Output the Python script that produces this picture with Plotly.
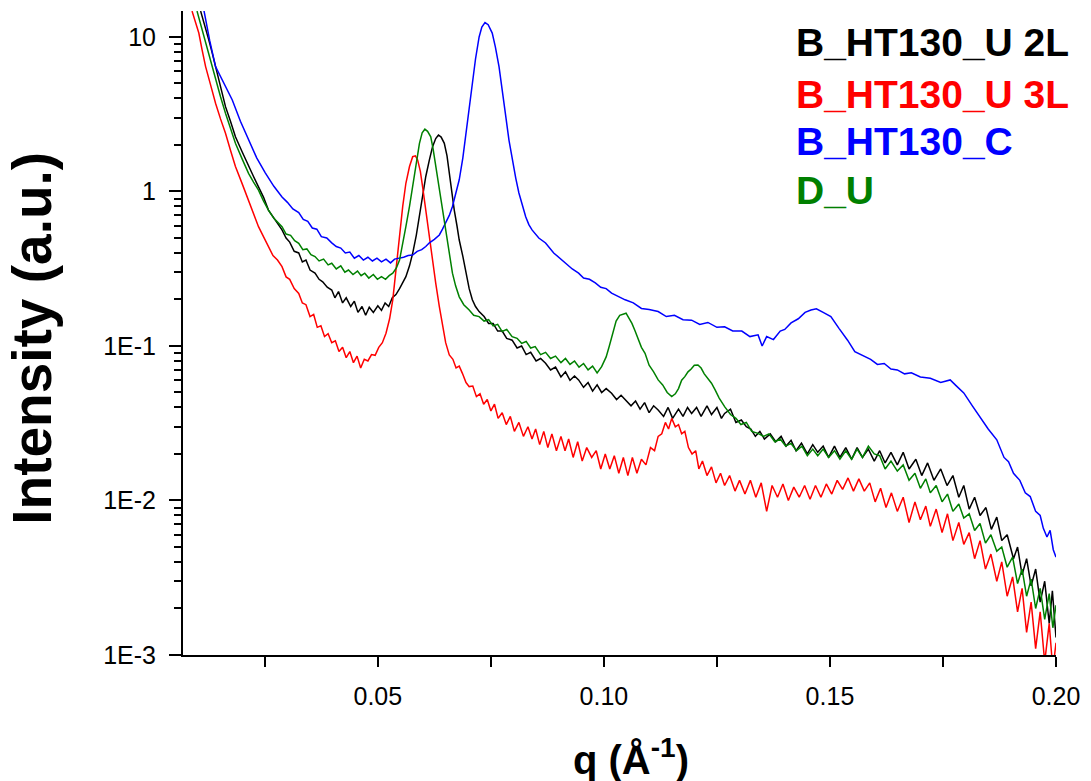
import plotly.graph_objects as go

# ---------------- data ----------------
series_names = ["B_HT130_U 2L", "B_HT130_U 3L", "B_HT130_C", "D_U"]
series_colors = ["#000000", "#FF0000", "#0000FF", "#008000"]

# B_HT130_U 2L (black)
q_black = [0.0108, 0.0117, 0.0126, 0.0133, 0.0141, 0.0152, 0.0163, 0.0174, 0.0185, 0.0200,
           0.0214, 0.0225, 0.0236, 0.0247, 0.0258, 0.0270, 0.0280, 0.0288, 0.0297, 0.0305,
           0.0315, 0.0325, 0.0333, 0.0341, 0.0350, 0.0361, 0.0370, 0.0378, 0.0388, 0.0398,
           0.0405, 0.0413, 0.0422, 0.0430, 0.0440, 0.0448, 0.0456, 0.0465, 0.0473, 0.0481,
           0.0490, 0.0500, 0.0508, 0.0516, 0.0524, 0.0532, 0.0540, 0.0548, 0.0555, 0.0562,
           0.0570, 0.0577, 0.0585, 0.0592, 0.0599, 0.0606, 0.0614, 0.0621, 0.0628, 0.0634,
           0.0640, 0.0647, 0.0653, 0.0658, 0.0664, 0.0669, 0.0675, 0.0680, 0.0688, 0.0695,
           0.0702, 0.0709, 0.0716, 0.0724, 0.0735, 0.0745, 0.0755, 0.0765, 0.0775, 0.0785,
           0.0797, 0.0808, 0.0818, 0.0828, 0.0838, 0.0850, 0.0860, 0.0871, 0.0882, 0.0893,
           0.0905, 0.0915, 0.0925, 0.0935, 0.0944, 0.0955, 0.0965, 0.0975, 0.0985, 0.0995,
           0.1005, 0.1017, 0.1028, 0.1038, 0.1047, 0.1060, 0.1070, 0.1080, 0.1090, 0.1100,
           0.1110, 0.1120, 0.1132, 0.1142, 0.1152, 0.1165, 0.1175, 0.1185, 0.1194, 0.1205,
           0.1215, 0.1228, 0.1238, 0.1250, 0.1260, 0.1267, 0.1280, 0.1292, 0.1304, 0.1315,
           0.1325, 0.1335, 0.1345, 0.1355, 0.1368, 0.1380, 0.1392, 0.1403, 0.1414, 0.1425,
           0.1437, 0.1450, 0.1462, 0.1473, 0.1485, 0.1497, 0.1510, 0.1522, 0.1535, 0.1548,
           0.1560, 0.1572, 0.1585, 0.1598, 0.1610, 0.1622, 0.1635, 0.1649, 0.1662, 0.1675,
           0.1690, 0.1703, 0.1716, 0.1730, 0.1745, 0.1759, 0.1772, 0.1785, 0.1796, 0.1808,
           0.1820, 0.1832, 0.1845, 0.1857, 0.1869, 0.1880, 0.1892, 0.1906, 0.1915, 0.1925,
           0.1935, 0.1945, 0.1955, 0.1965, 0.1975, 0.1985, 0.1992, 0.2000]
i_black = [14.7, 12.0, 9.57, 8.0, 6.43, 4.8, 3.54, 2.85, 2.26, 1.80,
           1.45, 1.25, 1.07, 0.92, 0.758, 0.68, 0.61, 0.564, 0.50, 0.47,
           0.41, 0.40, 0.35, 0.36, 0.31, 0.296, 0.27, 0.26, 0.24, 0.23,
           0.205, 0.225, 0.19, 0.205, 0.18, 0.195, 0.165, 0.18, 0.158, 0.178,
           0.165, 0.182, 0.17, 0.19, 0.18, 0.205, 0.215, 0.235, 0.26, 0.281,
           0.33, 0.398, 0.52, 0.687, 0.93, 1.25, 1.60, 1.95, 2.20, 2.32,
           2.25, 2.05, 1.70, 1.31, 0.98, 0.758, 0.60, 0.485, 0.38, 0.296,
           0.235, 0.199, 0.18, 0.167, 0.155, 0.140, 0.140, 0.125, 0.125, 0.112,
           0.109, 0.097, 0.100, 0.088, 0.091, 0.080, 0.083, 0.0773, 0.070, 0.073,
           0.063, 0.068, 0.060, 0.064, 0.0603, 0.054, 0.058, 0.051, 0.056, 0.050,
           0.053, 0.0494, 0.045, 0.048, 0.0447, 0.041, 0.044, 0.039, 0.043, 0.037,
           0.041, 0.0385, 0.035, 0.040, 0.034, 0.039, 0.035, 0.040, 0.0366, 0.040,
           0.035, 0.041, 0.036, 0.040, 0.034, 0.0366, 0.039, 0.032, 0.0332, 0.030,
           0.029, 0.026, 0.028, 0.025, 0.027, 0.024, 0.026, 0.0225, 0.0245, 0.021,
           0.0235, 0.020, 0.023, 0.0205, 0.0225, 0.019, 0.0225, 0.019, 0.022, 0.0185,
           0.022, 0.019, 0.0215, 0.018, 0.021, 0.0175, 0.0205, 0.017, 0.0205, 0.016,
           0.0185, 0.0145, 0.0175, 0.0135, 0.016, 0.0125, 0.0145, 0.0105, 0.0125, 0.0088,
           0.0105, 0.0080, 0.0090, 0.0065, 0.0078, 0.0055, 0.0060, 0.0042, 0.0050, 0.0033,
           0.0042, 0.0028, 0.0036, 0.0022, 0.0030, 0.0016, 0.0026, 0.0013]

# B_HT130_U 3L (red)
q_red = [0.0089, 0.0096, 0.0104, 0.0111, 0.0119, 0.0130, 0.0141, 0.0152, 0.0163, 0.0174,
         0.0185, 0.0200, 0.0214, 0.0225, 0.0236, 0.0247, 0.0258, 0.0268, 0.0278, 0.0288,
         0.0297, 0.0305, 0.0315, 0.0325, 0.0333, 0.0341, 0.0350, 0.0358, 0.0366, 0.0374,
         0.0382, 0.0390, 0.0398, 0.0406, 0.0414, 0.0422, 0.0430, 0.0438, 0.0446, 0.0454,
         0.0462, 0.0470, 0.0478, 0.0486, 0.0494, 0.0502, 0.0510, 0.0518, 0.0526, 0.0533,
         0.0540, 0.0548, 0.0555, 0.0562, 0.0570, 0.0577, 0.0583, 0.0588, 0.0594, 0.0599,
         0.0606, 0.0614, 0.0621, 0.0628, 0.0636, 0.0643, 0.0650, 0.0658, 0.0666, 0.0673,
         0.0680, 0.0687, 0.0695, 0.0702, 0.0710, 0.0718, 0.0726, 0.0734, 0.0742, 0.0750,
         0.0758, 0.0766, 0.0775, 0.0784, 0.0793, 0.0802, 0.0812, 0.0822, 0.0832, 0.0841,
         0.0849, 0.0858, 0.0867, 0.0876, 0.0885, 0.0895, 0.0905, 0.0914, 0.0922, 0.0932,
         0.0942, 0.0952, 0.0962, 0.0973, 0.0983, 0.0993, 0.1003, 0.1013, 0.1023, 0.1033,
         0.1043, 0.1053, 0.1063, 0.1073, 0.1083, 0.1093, 0.1103, 0.1112, 0.1120, 0.1128,
         0.1136, 0.1143, 0.1150, 0.1158, 0.1165, 0.1172, 0.1179, 0.1187, 0.1195, 0.1203,
         0.1210, 0.1218, 0.1228, 0.1238, 0.1248, 0.1258, 0.1267, 0.1278, 0.1290, 0.1300,
         0.1312, 0.1324, 0.1336, 0.1348, 0.1360, 0.1372, 0.1384, 0.1396, 0.1408, 0.1420,
         0.1432, 0.1444, 0.1456, 0.1468, 0.1480, 0.1492, 0.1504, 0.1516, 0.1528, 0.1540,
         0.1552, 0.1564, 0.1576, 0.1588, 0.1600, 0.1612, 0.1624, 0.1636, 0.1649, 0.1662,
         0.1675, 0.1688, 0.1700, 0.1712, 0.1722, 0.1735, 0.1748, 0.1760, 0.1772, 0.1785,
         0.1796, 0.1808, 0.1820, 0.1832, 0.1844, 0.1856, 0.1869, 0.1880, 0.1892, 0.1904,
         0.1915, 0.1925, 0.1935, 0.1945, 0.1955, 0.1965, 0.1975, 0.1985, 0.1993, 0.2000]
i_red = [14.7, 12.5, 10.6, 8.3, 6.43, 4.9, 3.72, 2.95, 2.38, 1.85,
         1.45, 1.12, 0.881, 0.72, 0.592, 0.51, 0.44, 0.385, 0.36, 0.326,
         0.28, 0.27, 0.235, 0.219, 0.19, 0.185, 0.155, 0.16, 0.132, 0.135,
         0.115, 0.12, 0.105, 0.108, 0.092, 0.098, 0.084, 0.092, 0.078, 0.086,
         0.072, 0.082, 0.080, 0.088, 0.087, 0.098, 0.105, 0.121, 0.150, 0.199,
         0.31, 0.536, 0.80, 1.13, 1.45, 1.68, 1.70, 1.60, 1.35, 1.07,
         0.75, 0.536, 0.36, 0.255, 0.18, 0.133, 0.105, 0.0875, 0.082, 0.072,
         0.074, 0.0665, 0.058, 0.0546, 0.055, 0.047, 0.049, 0.042, 0.045, 0.038,
         0.042, 0.034, 0.037, 0.031, 0.035, 0.028, 0.032, 0.026, 0.030, 0.025,
         0.029, 0.023, 0.028, 0.022, 0.027, 0.021, 0.026, 0.021, 0.025, 0.019,
         0.024, 0.018, 0.022, 0.019, 0.021, 0.016, 0.020, 0.016, 0.0195, 0.015,
         0.019, 0.0145, 0.019, 0.015, 0.0185, 0.017, 0.022, 0.021, 0.026, 0.027,
         0.032, 0.029, 0.034, 0.030, 0.031, 0.027, 0.028, 0.022, 0.020, 0.021,
         0.016, 0.018, 0.0145, 0.0165, 0.013, 0.015, 0.0125, 0.0145, 0.0115, 0.0135,
         0.0110, 0.0135, 0.0105, 0.0130, 0.0085, 0.0125, 0.0105, 0.0128, 0.0100, 0.0122,
         0.0105, 0.0125, 0.0102, 0.0125, 0.0105, 0.0128, 0.0110, 0.0135, 0.0118, 0.0140,
         0.0115, 0.0138, 0.0115, 0.0130, 0.0098, 0.0120, 0.0090, 0.0112, 0.0085, 0.0105,
         0.0072, 0.0098, 0.0075, 0.0092, 0.0068, 0.0088, 0.0062, 0.0082, 0.0055, 0.0072,
         0.0052, 0.0062, 0.0042, 0.0055, 0.0036, 0.0045, 0.0030, 0.0040, 0.0024, 0.0032,
         0.0019, 0.0027, 0.0014, 0.0022, 0.0011, 0.0019, 0.0009, 0.0016, 0.0008, 0.0012]

# B_HT130_C (blue)
q_blue = [0.0115, 0.0128, 0.0141, 0.0160, 0.0178, 0.0196, 0.0214, 0.0232, 0.0251, 0.0270,
          0.0288, 0.0300, 0.0312, 0.0325, 0.0335, 0.0345, 0.0355, 0.0365, 0.0375, 0.0387,
          0.0398, 0.0408, 0.0418, 0.0428, 0.0438, 0.0448, 0.0458, 0.0468, 0.0478, 0.0488,
          0.0498, 0.0508, 0.0518, 0.0528, 0.0537, 0.0547, 0.0557, 0.0567, 0.0577, 0.0587,
          0.0597, 0.0606, 0.0614, 0.0625, 0.0636, 0.0643, 0.0650, 0.0658, 0.0665, 0.0672,
          0.0680, 0.0688, 0.0695, 0.0702, 0.0709, 0.0716, 0.0724, 0.0730, 0.0737, 0.0744,
          0.0753, 0.0760, 0.0768, 0.0775, 0.0783, 0.0790, 0.0797, 0.0805, 0.0812, 0.0820,
          0.0827, 0.0834, 0.0841, 0.0856, 0.0871, 0.0889, 0.0907, 0.0920, 0.0930, 0.0944,
          0.0955, 0.0968, 0.0981, 0.0993, 0.1005, 0.1017, 0.1030, 0.1047, 0.1065, 0.1083,
          0.1100, 0.1120, 0.1138, 0.1156, 0.1175, 0.1194, 0.1212, 0.1230, 0.1250, 0.1267,
          0.1285, 0.1305, 0.1323, 0.1341, 0.1350, 0.1360, 0.1375, 0.1390, 0.1400, 0.1414,
          0.1430, 0.1445, 0.1458, 0.1470, 0.1485, 0.1502, 0.1520, 0.1539, 0.1555, 0.1576,
          0.1590, 0.1605, 0.1620, 0.1635, 0.1649, 0.1665, 0.1680, 0.1700, 0.1722, 0.1745,
          0.1766, 0.1780, 0.1796, 0.1815, 0.1832, 0.1850, 0.1869, 0.1885, 0.1895, 0.1906,
          0.1920, 0.1932, 0.1943, 0.1955, 0.1965, 0.1972, 0.1980, 0.1987, 0.1994, 0.2000]
i_blue = [15.0, 9.5, 6.43, 5.0, 3.91, 2.85, 2.15, 1.65, 1.32, 1.08,
          0.92, 0.85, 0.77, 0.73, 0.66, 0.64, 0.58, 0.57, 0.51, 0.50,
          0.465, 0.44, 0.43, 0.40, 0.405, 0.37, 0.385, 0.36, 0.375, 0.355,
          0.37, 0.35, 0.365, 0.345, 0.365, 0.37, 0.375, 0.385, 0.388, 0.41,
          0.42, 0.44, 0.465, 0.49, 0.523, 0.57, 0.625, 0.70, 0.80, 0.97,
          1.19, 1.65, 2.39, 3.5, 5.04, 7.2, 10.0, 11.6, 12.4, 12.0,
          10.6, 8.6, 6.43, 4.4, 3.05, 2.15, 1.60, 1.22, 0.977, 0.80,
          0.687, 0.61, 0.564, 0.50, 0.464, 0.40, 0.36, 0.33, 0.315, 0.296,
          0.275, 0.27, 0.256, 0.24, 0.235, 0.22, 0.21, 0.199, 0.19, 0.175,
          0.172, 0.167, 0.155, 0.158, 0.148, 0.147, 0.138, 0.142, 0.132, 0.133,
          0.125, 0.125, 0.115, 0.118, 0.100, 0.115, 0.110, 0.125, 0.128, 0.141,
          0.150, 0.165, 0.171, 0.174, 0.165, 0.155, 0.130, 0.109, 0.092, 0.0853,
          0.082, 0.076, 0.077, 0.071, 0.070, 0.066, 0.067, 0.063, 0.0618, 0.058,
          0.0603, 0.055, 0.0497, 0.041, 0.0348, 0.029, 0.0247, 0.0190, 0.0178, 0.0150,
          0.0135, 0.0112, 0.0106, 0.0085, 0.0080, 0.0066, 0.0058, 0.0064, 0.0048, 0.0043]

# D_U (green)
q_green = [0.0100, 0.0110, 0.0119, 0.0130, 0.0141, 0.0152, 0.0163, 0.0174, 0.0185, 0.0200,
           0.0214, 0.0225, 0.0236, 0.0247, 0.0258, 0.0270, 0.0280, 0.0288, 0.0297, 0.0307,
           0.0316, 0.0325, 0.0334, 0.0343, 0.0352, 0.0361, 0.0370, 0.0380, 0.0390, 0.0398,
           0.0408, 0.0418, 0.0427, 0.0435, 0.0445, 0.0455, 0.0463, 0.0471, 0.0480, 0.0490,
           0.0499, 0.0508, 0.0517, 0.0525, 0.0533, 0.0541, 0.0548, 0.0555, 0.0562, 0.0570,
           0.0577, 0.0585, 0.0592, 0.0598, 0.0604, 0.0610, 0.0617, 0.0622, 0.0628, 0.0634,
           0.0639, 0.0645, 0.0650, 0.0658, 0.0665, 0.0672, 0.0680, 0.0690, 0.0702, 0.0712,
           0.0724, 0.0735, 0.0745, 0.0755, 0.0765, 0.0775, 0.0785, 0.0797, 0.0808, 0.0818,
           0.0828, 0.0838, 0.0848, 0.0860, 0.0871, 0.0882, 0.0893, 0.0905, 0.0915, 0.0925,
           0.0935, 0.0945, 0.0955, 0.0965, 0.0975, 0.0985, 0.0995, 0.1005, 0.1012, 0.1020,
           0.1027, 0.1035, 0.1042, 0.1049, 0.1055, 0.1062, 0.1069, 0.1076, 0.1083, 0.1091,
           0.1100, 0.1110, 0.1120, 0.1130, 0.1140, 0.1150, 0.1158, 0.1165, 0.1172, 0.1179,
           0.1186, 0.1193, 0.1200, 0.1208, 0.1215, 0.1222, 0.1230, 0.1238, 0.1246, 0.1255,
           0.1267, 0.1280, 0.1292, 0.1303, 0.1315, 0.1327, 0.1341, 0.1353, 0.1365, 0.1378,
           0.1390, 0.1402, 0.1414, 0.1426, 0.1438, 0.1450, 0.1462, 0.1473, 0.1485, 0.1497,
           0.1510, 0.1522, 0.1535, 0.1548, 0.1560, 0.1572, 0.1585, 0.1598, 0.1610, 0.1622,
           0.1635, 0.1649, 0.1662, 0.1675, 0.1688, 0.1700, 0.1712, 0.1722, 0.1735, 0.1748,
           0.1760, 0.1772, 0.1785, 0.1796, 0.1808, 0.1820, 0.1832, 0.1844, 0.1856, 0.1869,
           0.1880, 0.1892, 0.1904, 0.1915, 0.1925, 0.1935, 0.1945, 0.1955, 0.1965, 0.1975,
           0.1985, 0.1993, 0.2000]
i_green = [14.7, 11.5, 9.10, 6.8, 5.27, 4.1, 3.21, 2.55, 2.05, 1.62,
           1.31, 1.15, 1.02, 0.87, 0.758, 0.67, 0.63, 0.592, 0.53, 0.52,
           0.48, 0.462, 0.42, 0.425, 0.39, 0.379, 0.355, 0.365, 0.335, 0.343,
           0.315, 0.33, 0.30, 0.31, 0.29, 0.305, 0.285, 0.296, 0.275, 0.29,
           0.27, 0.281, 0.27, 0.285, 0.296, 0.32, 0.36, 0.45, 0.592, 0.80,
           1.07, 1.50, 2.05, 2.40, 2.53, 2.45, 2.26, 1.90, 1.45, 1.12,
           0.881, 0.68, 0.536, 0.40, 0.296, 0.245, 0.208, 0.185, 0.171, 0.158,
           0.155, 0.145, 0.148, 0.135, 0.138, 0.124, 0.128, 0.115, 0.112, 0.104,
           0.107, 0.097, 0.099, 0.088, 0.091, 0.083, 0.086, 0.078, 0.083, 0.076,
           0.080, 0.073, 0.077, 0.070, 0.074, 0.067, 0.0735, 0.085, 0.100, 0.125,
           0.145, 0.158, 0.160, 0.163, 0.152, 0.140, 0.125, 0.112, 0.098, 0.0897,
           0.075, 0.068, 0.0603, 0.056, 0.050, 0.047, 0.049, 0.053, 0.060, 0.0633,
           0.068, 0.071, 0.075, 0.0753, 0.072, 0.066, 0.062, 0.0574, 0.052, 0.046,
           0.0405, 0.036, 0.034, 0.031, 0.032, 0.028, 0.0272, 0.026, 0.027, 0.024,
           0.025, 0.0225, 0.0234, 0.021, 0.0225, 0.0195, 0.0215, 0.0195, 0.0215, 0.019,
           0.021, 0.0185, 0.021, 0.0185, 0.0215, 0.019, 0.0225, 0.020, 0.0195, 0.016,
           0.018, 0.0155, 0.017, 0.0135, 0.0150, 0.0120, 0.0138, 0.0112, 0.0125, 0.0098,
           0.0110, 0.0085, 0.0095, 0.0077, 0.0082, 0.0064, 0.0071, 0.0053, 0.0060, 0.0047,
           0.0050, 0.0037, 0.0043, 0.0029, 0.0036, 0.0024, 0.0031, 0.0020, 0.0027, 0.0017,
           0.0025, 0.0015, 0.0021]

x_tickvals = [0.05, 0.10, 0.15, 0.20]
x_ticktext = ["0.05", "0.10", "0.15", "0.20"]
x_minorvals = [0.025, 0.075, 0.125, 0.175]
y_tickvals = [1e-3, 1e-2, 1e-1, 1, 10]
y_ticktext = ["1E-3", "1E-2", "1E-1", "1", "10"]

FONT = "Arial, Liberation Sans, sans-serif"

# ---------------- figure ----------------
fig = go.Figure()
for name, color, xs, ys in [
    (series_names[0], series_colors[0], q_black, i_black),
    (series_names[1], series_colors[1], q_red, i_red),
    (series_names[2], series_colors[2], q_blue, i_blue),
    (series_names[3], series_colors[3], q_green, i_green),
]:
    fig.add_trace(go.Scatter(x=xs, y=ys, mode="lines", name=name,
                             line=dict(color=color, width=1.5), showlegend=False))

y_minor = [k * 10.0 ** e for e in range(-3, 2) for k in range(2, 10) if k * 10.0 ** e < 14.7]

pl, pr, pt, pb = 183, 31, 11, 126
W, H = 1091, 781
pw, ph = W - pl - pr, H - pt - pb

fig.update_layout(
    width=W, height=H,
    margin=dict(l=pl, r=pr, t=pt, b=pb),
    paper_bgcolor="white", plot_bgcolor="white",
    font=dict(family=FONT, color="black"),
    xaxis=dict(
        range=[0.0069, 0.2], showgrid=False, zeroline=False,
        showline=True, linecolor="black", linewidth=2,
        ticks="outside", ticklen=10, tickwidth=1.8, tickcolor="black",
        tickmode="array", tickvals=x_tickvals, ticktext=x_ticktext,
        tickfont=dict(size=25, family=FONT, color="black"),
        ticklabelstandoff=8,
        minor=dict(tickmode="array", tickvals=x_minorvals,
                   ticks="outside", ticklen=10, tickwidth=1.8, tickcolor="black",
                   showgrid=False),
    ),
    yaxis=dict(
        type="log", range=[-3, 1.168], showgrid=False, zeroline=False,
        showline=True, linecolor="black", linewidth=2,
        ticks="outside", ticklen=12, tickwidth=1.8, tickcolor="black",
        tickmode="array", tickvals=y_tickvals, ticktext=y_ticktext,
        tickfont=dict(size=25, family=FONT, color="black"),
        ticklabelstandoff=8,
        minor=dict(tickmode="array", tickvals=y_minor,
                   ticks="outside", ticklen=7, tickwidth=1.5, tickcolor="black",
                   showgrid=False),
    ),
)


def px_to_paper(xp, yp):
    return (xp - pl) / pw, (H - pb - yp) / ph


annotations = []
ax, ay = px_to_paper(31, 338)
annotations.append(dict(text="<b>Intensity (a.u.)</b>", textangle=-90, x=ax, y=ay,
                        xref="paper", yref="paper", showarrow=False,
                        font=dict(size=55, family=FONT, color="black"),
                        xanchor="center", yanchor="middle"))
ax, ay = px_to_paper(633, 757)
annotations.append(dict(text="<b>q (Å<sup>-1</sup>)</b>", x=ax, y=ay,
                        xref="paper", yref="paper", showarrow=False,
                        font=dict(size=40, family=FONT, color="black"),
                        xanchor="center", yanchor="middle"))

legend_y = [42, 94, 142, 190]
for name, color, yy in zip(series_names, series_colors, legend_y):
    ax, ay = px_to_paper(797, yy)
    annotations.append(dict(text="<b>" + name + "</b>", x=ax, y=ay,
                            xref="paper", yref="paper", showarrow=False,
                            xanchor="left", yanchor="middle",
                            font=dict(size=39, family=FONT, color=color)))
fig.update_layout(annotations=annotations)

fig.write_html("out.html")
